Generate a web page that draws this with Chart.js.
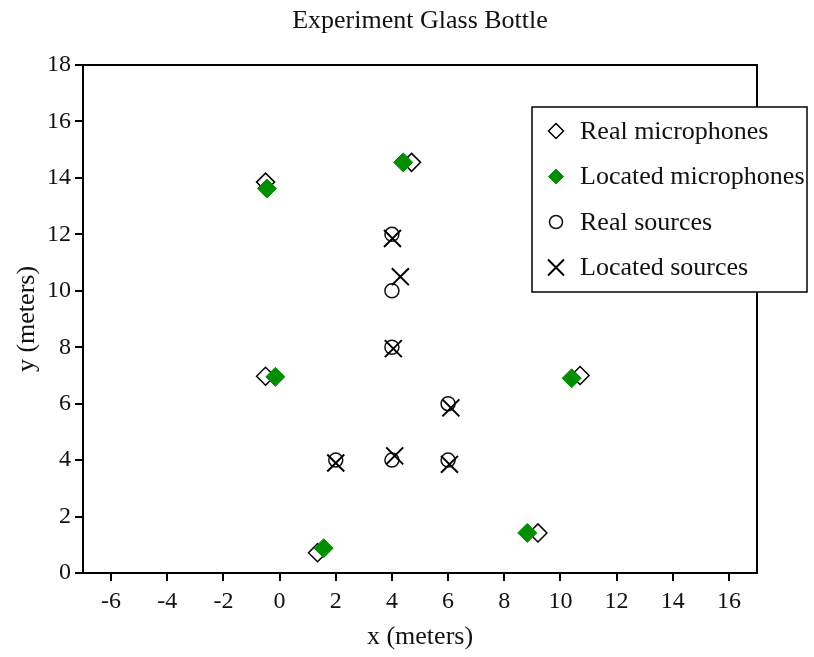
<!DOCTYPE html>
<html>
<head>
<meta charset="utf-8">
<title>Experiment Glass Bottle</title>
<script src="https://cdn.jsdelivr.net/npm/chart.js@4.4.1/dist/chart.umd.min.js"></script>
<style>
  html, body { margin: 0; padding: 0; background: #fff; }
  #wrap { width: 814px; height: 657px; }
</style>
</head>
<body>
<div id="wrap"><canvas id="bottleChart" width="814" height="657"></canvas></div>
<script>
// microphone / source positions, meters
const realMicX = [-0.5, 4.7, -0.5, 10.7, 1.35, 9.2];
const realMicY = [13.85, 14.55, 6.97, 7.0, 0.72, 1.42];
const locMicX = [-0.45, 4.4, -0.15, 10.4, 1.57, 8.82];
const locMicY = [13.62, 14.55, 6.95, 6.9, 0.88, 1.42];
const realSrcX = [4, 4, 4, 6, 2, 4, 6];
const realSrcY = [12, 10, 8, 6, 4, 4, 4];
const locSrcX = [4.02, 4.3, 4.05, 6.1, 2.0, 4.1, 6.05];
const locSrcY = [11.85, 10.5, 7.95, 5.85, 3.9, 4.15, 3.85];

const xTicks = [-6, -4, -2, 0, 2, 4, 6, 8, 10, 12, 14, 16];
const yTicks = [0, 2, 4, 6, 8, 10, 12, 14, 16, 18];

const GREEN = '#008f00';
const SERIF = "'Liberation Serif', 'Times New Roman', serif";

const toPoints = (xs, ys) => xs.map((x, i) => ({ x: x, y: ys[i] }));

Chart.defaults.font.family = SERIF;
Chart.defaults.color = '#111';

// closed box around the plot area
const frameBox = {
  id: 'frameBox',
  afterLayout(chart) {
    // center the title over the plot rather than the whole canvas
    const t = chart.titleBlock, a = chart.chartArea;
    if (t) { t.left = a.left; t.right = a.right; t.width = a.right - a.left; }
  },
  beforeDatasetsDraw(chart) {
    const { ctx, chartArea: a } = chart;
    ctx.save();
    ctx.strokeStyle = '#000';
    ctx.lineWidth = 2;
    ctx.strokeRect(a.left, a.top, a.right - a.left, a.bottom - a.top);
    ctx.restore();
  }
};

function legendMarker(ctx, ds, x, y) {
  ctx.save();
  ctx.lineWidth = ds.borderWidth;
  ctx.strokeStyle = ds.borderColor;
  ctx.fillStyle = ds.backgroundColor;
  ctx.beginPath();
  if (ds.pointStyle === 'rectRot') {
    const r = 7.5;
    ctx.moveTo(x, y - r); ctx.lineTo(x + r, y); ctx.lineTo(x, y + r); ctx.lineTo(x - r, y);
    ctx.closePath();
    ctx.fill(); ctx.stroke();
  } else if (ds.pointStyle === 'circle') {
    ctx.arc(x, y, 6.5, 0, Math.PI * 2);
    ctx.fill(); ctx.stroke();
  } else {
    const d = 8;
    ctx.moveTo(x - d, y - d); ctx.lineTo(x + d, y + d);
    ctx.moveTo(x + d, y - d); ctx.lineTo(x - d, y + d);
    ctx.stroke();
  }
  ctx.restore();
}

// legend box, overlapping the right edge of the plot
const boxLegend = {
  id: 'boxLegend',
  afterDraw(chart) {
    const { ctx, chartArea: a } = chart;
    const left = a.right - 225, top = a.top + 42, w = 275, h = 185, rowH = 45.5;
    ctx.save();
    ctx.fillStyle = '#fff';
    ctx.fillRect(left, top, w, h);
    ctx.strokeStyle = '#000';
    ctx.lineWidth = 1.5;
    ctx.strokeRect(left, top, w, h);
    ctx.font = '26px ' + SERIF;
    ctx.textBaseline = 'middle';
    chart.data.datasets.forEach((ds, i) => {
      const cy = top + 24 + i * rowH;
      legendMarker(ctx, ds, left + 24, cy);
      ctx.fillStyle = '#111';
      ctx.fillText(ds.label, left + 48, cy + 1);
    });
    ctx.restore();
  }
};

new Chart(document.getElementById('bottleChart'), {
  type: 'scatter',
  data: {
    datasets: [
      {
        label: 'Real microphones',
        data: toPoints(realMicX, realMicY),
        pointStyle: 'rectRot',
        pointRadius: 9,
        backgroundColor: '#fff',
        borderColor: '#000',
        borderWidth: 1.5,
        order: 4
      },
      {
        label: 'Located microphones',
        data: toPoints(locMicX, locMicY),
        pointStyle: 'rectRot',
        pointRadius: 9.5,
        backgroundColor: GREEN,
        borderColor: GREEN,
        borderWidth: 1,
        order: 3
      },
      {
        label: 'Real sources',
        data: toPoints(realSrcX, realSrcY),
        pointStyle: 'circle',
        pointRadius: 7,
        backgroundColor: 'rgba(0,0,0,0)',
        borderColor: '#111',
        borderWidth: 1.5,
        order: 2
      },
      {
        label: 'Located sources',
        data: toPoints(locSrcX, locSrcY),
        pointStyle: 'crossRot',
        pointRadius: 12,
        backgroundColor: '#000',
        borderColor: '#000',
        borderWidth: 2,
        order: 1
      }
    ]
  },
  options: {
    responsive: false,
    animation: false,
    layout: { padding: { left: 0, right: 57, top: 0, bottom: 0 } },
    plugins: {
      legend: { display: false },
      tooltip: { enabled: false },
      title: {
        display: true,
        text: 'Experiment Glass Bottle',
        font: { size: 26, weight: 'normal' },
        color: '#111',
        padding: { top: 6, bottom: 27.8 }
      }
    },
    scales: {
      x: {
        type: 'linear',
        min: -7,
        max: 17,
        afterBuildTicks: (s) => { s.ticks = xTicks.map(v => ({ value: v })); },
        afterFit: (s) => { s.height = 84; },
        ticks: { font: { size: 24 }, color: '#111', padding: 6, maxRotation: 0 },
        grid: { drawOnChartArea: false, drawTicks: true, tickLength: 8, color: '#000', lineWidth: 2 },
        border: { display: true, color: '#000', width: 2 },
        title: {
          display: true,
          text: 'x (meters)',
          font: { size: 26 },
          color: '#111',
          padding: { top: 0, bottom: 4 }
        }
      },
      y: {
        type: 'linear',
        min: 0,
        max: 18,
        afterBuildTicks: (s) => { s.ticks = yTicks.map(v => ({ value: v })); },
        afterFit: (s) => { s.width = 83; },
        ticks: { font: { size: 24 }, color: '#111', padding: 4 },
        grid: { drawOnChartArea: false, drawTicks: true, tickLength: 8, color: '#000', lineWidth: 2 },
        border: { display: true, color: '#000', width: 2 },
        title: {
          display: true,
          text: 'y (meters)',
          font: { size: 26 },
          color: '#111',
          padding: { top: 12, bottom: 0 }
        }
      }
    }
  },
  plugins: [frameBox, boxLegend]
});
</script>
</body>
</html>
